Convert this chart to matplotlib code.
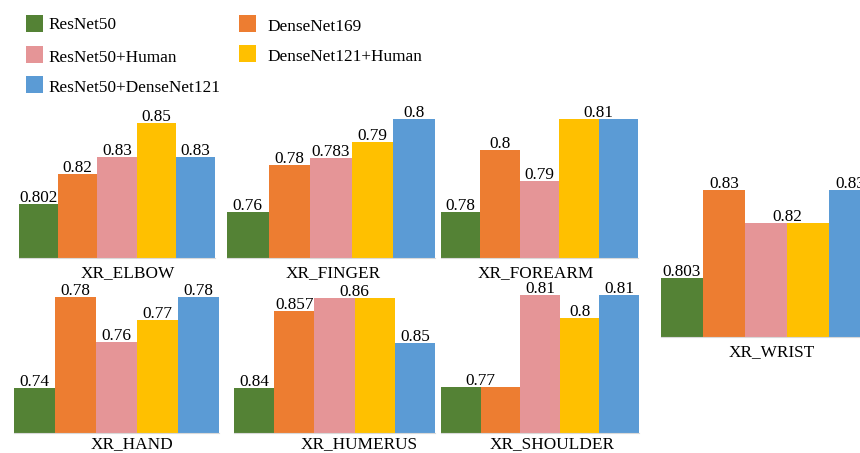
import matplotlib
matplotlib.use("Agg")
import matplotlib.pyplot as plt
from matplotlib.patches import Rectangle

plt.rcParams['font.family'] = ['Liberation Serif', 'DejaVu Serif']
plt.rcParams['font.size'] = 12.4

W, H = 860, 453

models = ["ResNet50", "DenseNet169", "ResNet50+Human",
          "DenseNet121+Human", "ResNet50+DenseNet121"]
colors = ["#548235", "#ED7D31", "#E59597", "#FFC000", "#5B9BD5"]

elbow = [0.802, 0.82, 0.83, 0.85, 0.83]
finger = [0.76, 0.78, 0.783, 0.79, 0.8]
forearm = [0.78, 0.8, 0.79, 0.81, 0.81]
wrist = [0.803, 0.83, 0.82, 0.82, 0.83]
hand = [0.74, 0.78, 0.76, 0.77, 0.78]
humerus = [0.84, 0.857, 0.86, 0.86, 0.85]
shoulder = [0.77, 0.77, 0.81, 0.8, 0.81]

# name, values, pixel box (left, right, base, top), y range (base value, top value), title pos
panels = [
    ("XR_ELBOW", elbow, (19, 215, 258, 123), (0.77, 0.85), (128, 277)),
    ("XR_FINGER", finger, (227, 435, 258, 119), (0.74, 0.80), (333, 277)),
    ("XR_FOREARM", forearm, (441, 638, 258, 119), (0.765, 0.81), (536, 277)),
    ("XR_WRIST", wrist, (661, 871, 337, 190), (0.785, 0.83), (772, 356)),
    ("XR_HAND", hand, (14, 219, 433, 297), (0.72, 0.78), (132, 448)),
    ("XR_HUMERUS", humerus, (234, 435, 433, 298), (0.83, 0.86), (359, 448)),
    ("XR_SHOULDER", shoulder, (441, 639, 433, 295), (0.75, 0.81), (552, 448)),
]

fig = plt.figure(figsize=(W / 100, H / 100), dpi=100)

for name, vals, (x0, x1, yb, yt), (lo, hi), (tx, ty) in panels:
    ax = fig.add_axes([x0 / W, 1 - yb / H, (x1 - x0) / W, (yb - yt) / H])
    xs = range(len(vals))
    ax.bar(xs, vals, width=1.0, bottom=0, color=colors, linewidth=0)
    ax.axhline(lo, color="#d9d9d9", lw=0.8, clip_on=False)
    ax.set_xlim(-0.5, len(vals) - 0.5)
    ax.set_ylim(lo, hi)
    ax.axis("off")
    # equal neighbours share one label placed on their common edge
    i = 0
    while i < len(vals):
        if i + 1 < len(vals) and vals[i + 1] == vals[i]:
            xc = i + 0.5
            step = 2
        else:
            xc = i
            step = 1
        ax.annotate(f"{vals[i]:g}", (xc, vals[i]), xytext=(0, 1.5),
                    textcoords="offset points", ha="center", va="baseline",
                    annotation_clip=False)
        i += step
    fig.text(tx / W, 1 - ty / H, name, ha="center", va="baseline")

# legend drawn by hand in pixel space
lg = fig.add_axes([0, 0, 1, 1])
lg.set_xlim(0, W)
lg.set_ylim(H, 0)
lg.axis("off")
legend_pos = [
    (26, 15, 48, 29),     # ResNet50
    (239, 15, 267, 31),   # DenseNet169
    (26, 46, 48, 62),     # ResNet50+Human
    (239, 45, 267, 61),   # DenseNet121+Human
    (26, 76, 48, 92),     # ResNet50+DenseNet121
]
for label, c, (px, py, tx, ty) in zip(models, colors, legend_pos):
    lg.add_patch(Rectangle((px, py), 17, 17, facecolor=c, edgecolor="none"))
    lg.text(tx, ty, label, ha="left", va="baseline")

fig.savefig("out.png", dpi=100)
